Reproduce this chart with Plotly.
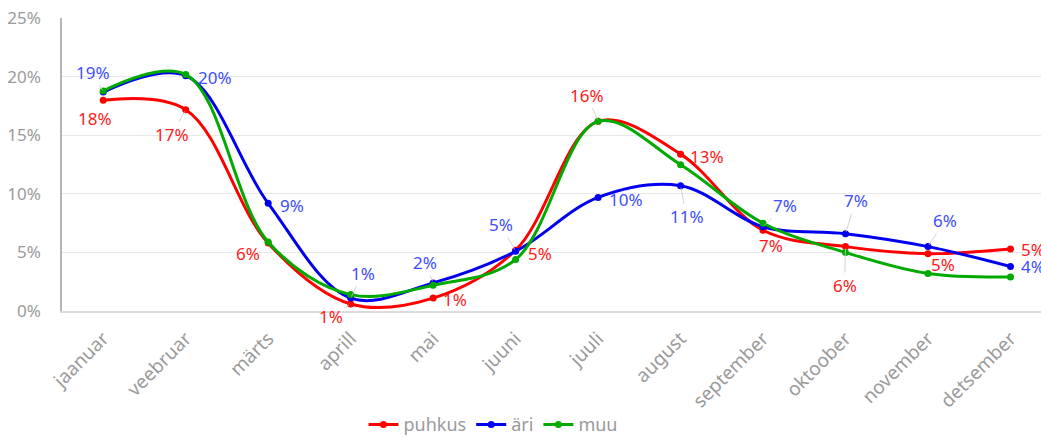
import plotly.graph_objects as go

months = ["jaanuar", "veebruar", "märts", "aprill", "mai", "juuni", "juuli",
          "august", "september", "oktoober", "november", "detsember"]
puhkus = [18.0, 17.2, 5.8, 0.6, 1.1, 5.2, 16.2, 13.4, 6.9, 5.5, 4.9, 5.3]
ari = [18.7, 20.1, 9.2, 1.1, 2.4, 5.1, 9.7, 10.7, 7.2, 6.6, 5.5, 3.8]
muu = [18.8, 20.2, 5.9, 1.4, 2.2, 4.4, 16.2, 12.5, 7.5, 5.0, 3.2, 2.9]
y_ticks = [0, 5, 10, 15, 20, 25]
y_tick_text = ["0%", "5%", "10%", "15%", "20%", "25%"]

# label offsets (px) and whether a leader line is drawn
puhkus_off = [(-8, 18, 0), (-14, 25, 1), (-20, 10, 0), (-20, 13, 1), (22, 1, 0), (24, 3, 0),
              (-11, -26, 1), (26, 2, 0), (8, 15, 0), (-1, 39, 1), (15, 11, 0), (23, 1, 0)]
ari_off = [(-10, -20, 1), (29, 2, 0), (24, 2, 0), (12, -25, 1), (-8, -20, 1), (-15, -27, 1),
           (28, 2, 0), (6, 31, 1), (22, -21, 1), (10, -33, 1), (17, -26, 1), (23, 0, 0)]

FONT = "Noto Sans"
GRAY = "#9a9a9a"

fig = go.Figure()
for name, vals, col in [("puhkus", puhkus, "#ff0000"), ("äri", ari, "#0000ee"), ("muu", muu, "#00aa00")]:
    fig.add_trace(go.Scatter(
        x=months, y=vals, name=name, mode="lines+markers",
        line=dict(color=col, width=3, shape="spline", smoothing=1.0),
        marker=dict(size=7, color=col), hoverinfo="skip"))

annotations = []
for vals, offs, tcol in [(puhkus, puhkus_off, "#ff1a1a"), (ari, ari_off, "#3d4dff")]:
    for m, v, (dx, dy, lead) in zip(months, vals, offs):
        annotations.append(dict(
            x=m, y=v, xref="x", yref="y", text=f"{round(v):.0f}%",
            showarrow=True, ax=dx, ay=dy, arrowhead=0, arrowwidth=0.8,
            arrowcolor="#c8c8c8" if lead else "rgba(0,0,0,0)", standoff=2,
            font=dict(family=FONT, size=17, color=tcol)))

fig.update_layout(
    width=1041, height=437,
    margin=dict(l=62, r=0, t=18, b=126),
    plot_bgcolor="white", paper_bgcolor="white",
    font=dict(family=FONT, color=GRAY),
    showlegend=True,
    legend=dict(orientation="h", xref="container", yref="container",
                x=0.4736, xanchor="center", y=0.028, yanchor="middle",
                font=dict(family=FONT, size=18, color=GRAY), itemwidth=30,
                tracegroupgap=0),
    annotations=annotations,
)
fig.update_xaxes(
    type="category", range=[-0.5, 11.37], automargin=False,
    tickangle=-45, tickfont=dict(family=FONT, size=19, color=GRAY),
    showgrid=False, showline=True, linecolor="#dcdcdc", linewidth=2,
    ticks="", ticklabelstandoff=7)
fig.update_yaxes(
    range=[0, 25.03], tickvals=y_ticks, ticktext=y_tick_text, automargin=False,
    tickfont=dict(family=FONT, size=17, color=GRAY),
    showgrid=True, gridcolor="#e8e8e8", gridwidth=1,
    showline=True, linecolor="#b5b5b5", linewidth=1.5,
    zeroline=False, ticks="", ticklabelstandoff=16)

fig.write_html("out.html", config={"displayModeBar": False},
               post_script="document.body.style.margin='0';document.body.style.overflow='hidden';")
